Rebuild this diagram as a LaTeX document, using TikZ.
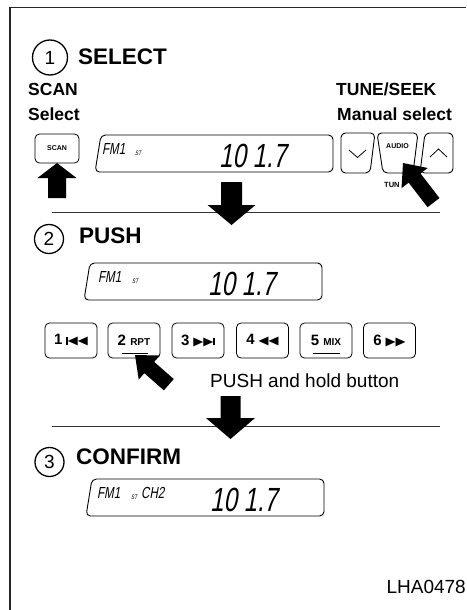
\documentclass[tikz,border=0pt]{standalone}
\usepackage{fontspec}
\setmainfont{Liberation Sans}
\newfontfamily\lcd{Liberation Sans}[FakeSlant=0.18,FakeStretch=0.72]
\newfontfamily\symf{DejaVu Sans}
\newcommand{\fsz}[1]{\fontsize{#1}{#1}\selectfont}
\newcommand{\lt}{\resizebox{10pt}{7.5pt}{\symf\char"25C0}}
\newcommand{\rt}{\resizebox{10pt}{7.5pt}{\symf\char"25B6}}
\newcommand{\vbar}{\rule[0pt]{1.6pt}{7.5pt}}
\tikzset{
  frameline/.style={line width=1.4pt, draw=black!85},
  sepline/.style={line width=1pt, draw=black!80},
  disp/.style={line width=0.9pt, rounded corners=4.5pt},
  btn/.style={draw, line width=0.8pt, rounded corners=4.5pt, inner sep=0pt},
  heading/.style={anchor=base west, inner sep=0pt, font=\fsz{22.5}\bfseries},
  sublabel/.style={anchor=base west, inner sep=0pt, font=\fsz{17.5}\bfseries},
  stepnum/.style={inner sep=0pt, font=\fsz{19}},
  ring/.style={line width=1.3pt},
  lcdmid/.style={anchor=base west, inner sep=0pt, font=\lcd\fsz{16}},
  lcdtiny/.style={anchor=base west, inner sep=0pt, font=\lcd\fsz{6.5}},
  lcdbig/.style={anchor=base west, inner sep=0pt, font=\lcd\fsz{33.5}},
  preset/.style={btn, minimum width=52pt, minimum height=35pt, font=\fsz{15}\bfseries},
}
% tip x, tip y, angle, length, head length, head half width, shaft half width
\newcommand{\barrow}[7]{\fill[shift={(#1,#2)},rotate=#3] (0,0) -- (-#5,#6) -- (-#5,#7) -- (-#4,#7) -- (-#4,-#7) -- (-#5,-#7) -- (-#5,-#6) -- cycle;}
% name, x, y, FM1 offset, ST offset
\newcommand{\lcdpanel}[5]{%
  \begin{scope}[shift={(#2,#3)}]
    \draw[disp] (6,0) -- (238,0) -- (238,-37) -- (0,-37) -- cycle;
    \node[lcdmid] (#1fm) at (#4,-19) {FM1};
    \node[lcdtiny] (#1st) at (#5,-20) {ST};
    \node[lcdbig] (#1num) at (124,-32) {10 1.7};
  \end{scope}}
\begin{document}
\begin{tikzpicture}[x=1pt,y=1pt]
\useasboundingbox (0,0) rectangle (466,-610);
\draw[frameline] (466,-7.5) -- (10,-7.5) -- (10,-610);

% ---- step 1
\node[stepnum] (c1) at (50,-57.5) {1};
\draw[ring] (c1.center) circle[radius=17.5];
\node[heading] (t1) at (78,-64) {SELECT};
\node[sublabel] (scanl) at (28,-95) {SCAN};
\node[sublabel] (scansel) at (28,-120) {Select};
\node[sublabel] (tunel) at (336,-95) {TUNE/SEEK};
\node[sublabel] (mansel) at (337,-120) {Manual select};
\node[btn, minimum width=44pt, minimum height=29pt, font=\fsz{7}\bfseries] (scan) at (57,-148.5) {SCAN};
\lcdpanel{da}{95}{-135}{7}{40}
% tune buttons
\draw[disp] (341,-133) -- (375,-133) -- (370,-173) -- (341,-173) -- cycle;
\draw[line width=0.8pt] (349,-150) -- (357.5,-157.5) -- (366,-150);
\draw[disp] (377,-133) -- (418,-133) -- (413,-173) -- (383,-173) -- cycle;
\node[font=\fsz{7}\bfseries, inner sep=0pt] (audio) at (397.5,-146) {AUDIO};
\draw[disp] (425,-133) -- (453,-133) -- (453,-173) -- (420,-173) -- cycle;
\draw[line width=0.8pt] (430,-157) -- (438.5,-149) -- (447,-157);
\node[font=\fsz{7.5}\bfseries, anchor=west, inner sep=0pt] (tun) at (384,-185) {TUN};
% arrows step 1
\barrow{57}{-163}{90}{35}{15}{19.5}{9}
\barrow{403}{-163}{127.6}{50}{19}{16.5}{7.5}
\draw[sepline] (52,-212) -- (440,-212);
\barrow{231.5}{-225}{-90}{43}{20}{24}{10.5}

% ---- step 2
\node[stepnum] (c2) at (49,-239) {2};
\draw[ring] (c2.center) circle[radius=14.5];
\node[heading] (t2) at (79,-243) {PUSH};
\lcdpanel{db}{84}{-263}{14}{48}
\node[preset] (p1) at (71,-340.5) {1\hspace{4pt}\vbar\lt\lt};
\node[preset] (p2) at (134,-340.5) {2 {\fsz{10}RPT}};
\node[preset] (p3) at (198,-340.5) {3\hspace{4pt}\rt\rt\vbar};
\node[preset] (p4) at (262.5,-340.5) {4\hspace{4pt}\lt\lt};
\node[preset] (p5) at (326,-340.5) {5 {\fsz{10}MIX}};
\node[preset] (p6) at (389.5,-340.5) {6\hspace{4pt}\rt\rt};
\draw[line width=0.8pt] ([xshift=-12pt,yshift=-12.5pt]p2.center) -- ++(26,0);
\draw[line width=0.8pt] ([xshift=-13pt,yshift=-12.5pt]p5.center) -- ++(27,0);
\barrow{135}{-355}{138.7}{45}{19}{16}{7.5}
\node[anchor=base west, inner sep=0pt, font=\fsz{19}] (hold) at (210,-387) {PUSH and hold button};
\draw[sepline] (52,-426) -- (440,-426);
\barrow{230.5}{-439}{-90}{43}{21}{24.5}{10}

% ---- step 3
\node[stepnum] (c3) at (49.5,-462) {3};
\draw[ring] (c3.center) circle[radius=14.5];
\node[heading] (t3) at (76,-464) {CONFIRM};
\lcdpanel{dc}{86}{-479}{11}{45}
\node[lcdmid] (dcch) at (141,-498) {CH2};

\node[anchor=base east, inner sep=0pt, font=\fsz{19}] (code) at (466,-593) {LHA0478};
\end{tikzpicture}
\end{document}
